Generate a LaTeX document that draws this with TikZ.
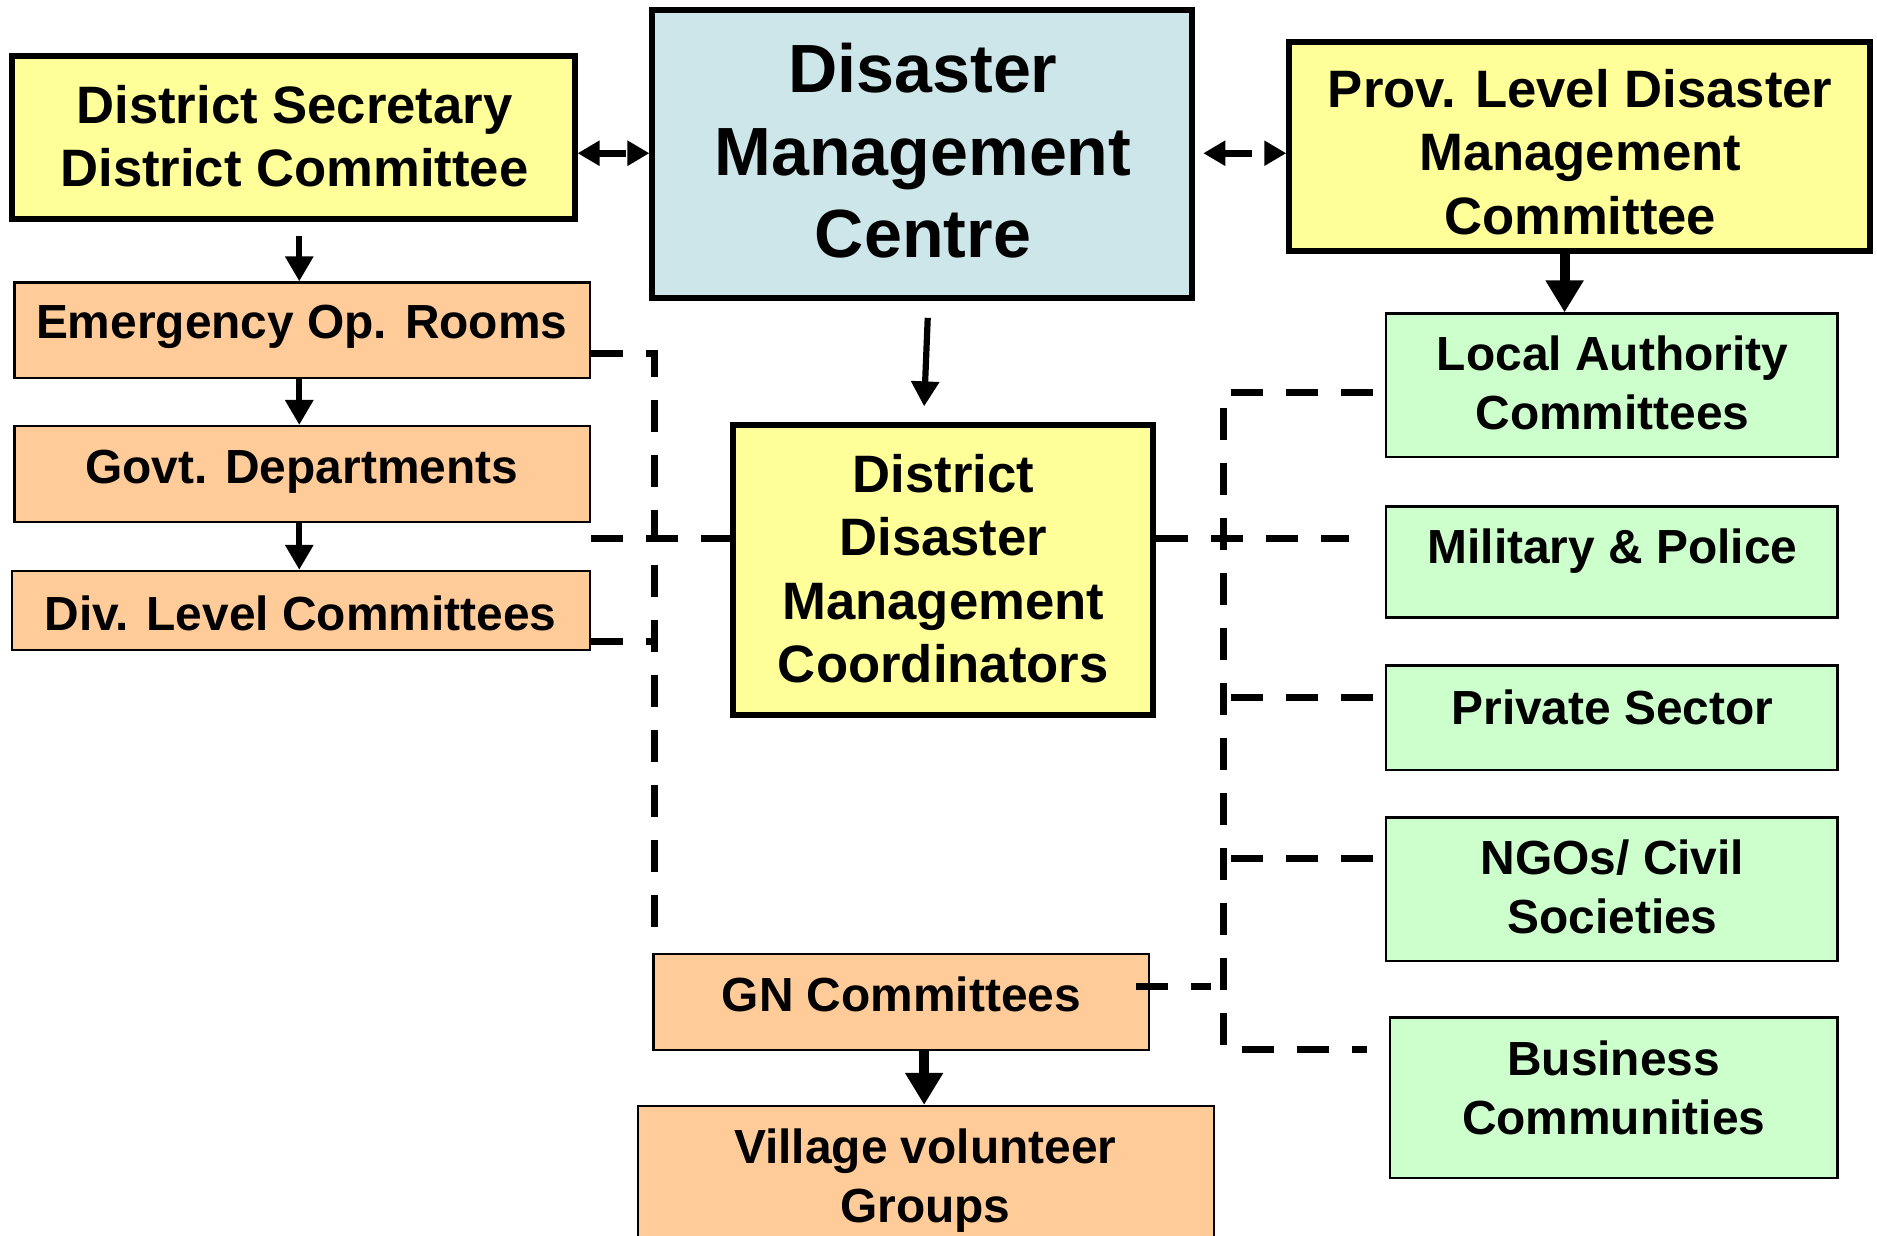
\documentclass[tikz,border=0pt]{standalone}
\usepackage{fontspec}
\setmainfont{Liberation Sans}
\usetikzlibrary{arrows.meta,fit}
\newcommand\spx{0.5985pt}
\definecolor{cyel}{HTML}{FFFF99}
\definecolor{cblu}{HTML}{CDE6EA}
\definecolor{cpch}{HTML}{FFCC99}
\definecolor{cgrn}{HTML}{CCFFCC}
\tikzset{
 thickbox/.style={draw, line width=3pt, inner sep=0pt},
 thinbox/.style={draw, line width=1.2pt, inner sep=0pt},
 txt/.style={font=\bfseries\fontsize{23.94pt}{29.3pt}\selectfont, align=center, inner sep=0pt},
 bigtxt/.style={font=\bfseries\fontsize{26.33pt}{31.7pt}\selectfont, align=center, inner sep=0pt},
 hugetxt/.style={font=\bfseries\fontsize{34.1pt}{41.3pt}\selectfont, align=center, inner sep=0pt},
 arrthin/.style={line width=3.1pt, -{Triangle[length=12.5pt,width=13.5pt]}},
 arrthick/.style={line width=5pt, -{Triangle[length=16pt,width=18pt]}},
 arrdbl/.style={line width=3.6pt, dash pattern=on 14pt off 30pt, {Triangle[length=11pt,width=12pt]}-{Triangle[length=11pt,width=12pt]}},
 dsh/.style={line width=3.5pt, dash pattern=on 16pt off 11.5pt},
}
\begin{document}
\begin{tikzpicture}[x=\spx,y=-\spx]
\fill[white] (0,0) rectangle (1568,1032);
\clip (0,0) rectangle (1568,1032);
% boxes
\node[thickbox, fill=cyel, fit={(10,47)(480,183)}] (ds) {};
\node[thickbox, fill=cblu, fit={(545,8)(996,249)}] (dmc) {};
\node[thickbox, fill=cyel, fit={(1077,35)(1562,210)}] (prov) {};
\node[thinbox, fill=cpch, fit={(12,236)(493,316)}] (emr) {};
\node[thinbox, fill=cpch, fit={(12,356)(493,436)}] (govt) {};
\node[thinbox, fill=cpch, fit={(10,477)(493,543)}] (div) {};
\node[thickbox, fill=cyel, fit={(612,355)(963,597)}] (ddmc) {};
\node[thinbox, fill=cpch, fit={(546,797)(960,877)}] (gn) {};
\node[thinbox, fill=cpch, fit={(533,924)(1014,1060)}] (vvg) {};
\node[thinbox, fill=cgrn, fit={(1158,262)(1535,382)}] (lac) {};
\node[thinbox, fill=cgrn, fit={(1158,423)(1535,516)}] (mp) {};
\node[thinbox, fill=cgrn, fit={(1158,556)(1535,643)}] (ps) {};
\node[thinbox, fill=cgrn, fit={(1158,683)(1535,803)}] (ngo) {};
\node[thinbox, fill=cgrn, fit={(1161,850)(1535,984)}] (bc) {};
% texts
\node[bigtxt] (ds-t) at (246,114) {District Secretary\\District Committee};
\node[hugetxt] (dmc-t) at (771,126) {Disaster\\Management\\Centre};
\node[bigtxt] (prov-t) at (1320,127) {Prov. Level Disaster\\Management\\Committee};
\node[txt] (emr-t) at (252,273) {Emergency Op. Rooms};
\node[txt] (govt-t) at (252,394) {Govt. Departments};
\node[txt] (div-t) at (251,512) {Div. Level Committees};
\node[bigtxt] (ddmc-t) at (788,475) {District\\Disaster\\Management\\Coordinators};
\node[txt] (gn-t) at (753,831) {GN Committees};
\node[txt] (vvg-t) at (773,986) {Village volunteer\\Groups};
\node[txt] (lac-t) at (1347,320) {Local Authority\\Committees};
\node[txt] (mp-t) at (1347,460) {Military \& Police};
\node[txt] (ps-t) at (1347,591) {Private Sector};
\node[txt] (ngo-t) at (1347,741) {NGOs/ Civil\\Societies};
\node[txt] (bc-t) at (1348,909) {Business\\Communities};
% solid arrows
\draw[arrdbl] (ds.east |- 0,128) -- (dmc.west |- 0,128);
\draw[arrdbl] ([xshift=4pt]dmc.east |- 0,128) -- (prov.west |- 0,128);
\draw[arrthin, shorten <=7pt] (250,0 |- ds.south) -- (250,0 |- emr.north);
\draw[arrthin] (250,0 |- emr.south) -- (250,0 |- govt.north);
\draw[arrthin] (250,0 |- govt.south) -- (250,0 |- div.north);
\draw[arrthin] ([shift={(4.5,14)}]dmc.south) -- ([shift={(-15.5,-13)}]ddmc.north);
\draw[arrthick] (1307,0 |- prov.south) -- (1307,0 |- lac.north);
\draw[arrthick] (772,0 |- gn.south) -- (772,0 |- vvg.north);
% dashed links, left
\coordinate (lb) at (547,785);
\draw[dsh] (emr.east |- 0,295) -| (lb);
\draw[dsh] (govt.east |- 0,450) -- (ddmc.west |- 0,450);
\draw[dsh] (div.east |- 0,536) -- (lb |- 0,536);
% dashed links, right
\coordinate (rt) at (1022,328);
\coordinate (rb) at (1022,877);
\draw[dsh, shorten >=18pt] (ddmc.east |- 0,450) -- (mp.west |- 0,450);
\draw[dsh, shorten <=6pt, shorten >=11pt] (lac.west |- rt) -- (rt) -- (rb) -- (bc.west |- rb);
\draw[dsh, shorten <=6pt] (ps.west |- 0,583) -- (rt |- 0,583);
\draw[dsh, shorten <=6pt] (ngo.west |- 0,717) -- (rt |- 0,717);
\draw[dsh, shorten >=6pt] ([xshift=-7pt]gn.east |- 0,824) -- (rt |- 0,824);
\end{tikzpicture}
\end{document}
